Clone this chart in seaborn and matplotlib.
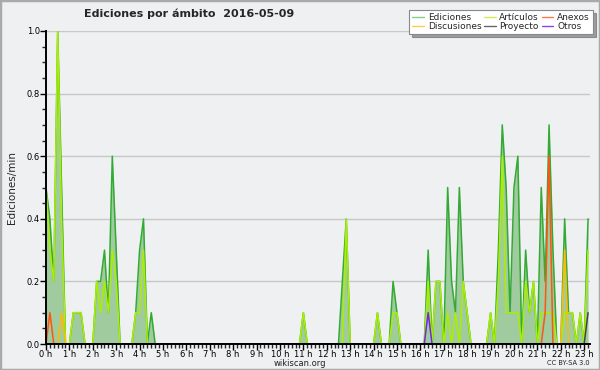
import matplotlib
matplotlib.use("Agg")
import matplotlib.pyplot as plt
import numpy as np
import pandas as pd
import seaborn as sns
from matplotlib.ticker import MultipleLocator, FixedLocator
from matplotlib.lines import Line2D
from matplotlib.patches import Rectangle

# ---- data: edits per minute in 10-minute bins (6 bins per hour) ----
bins_per_hour = 6
hour_labels = [f"{h} h" for h in range(24)]

ediciones = [
    0.5, 0.4, 0.2, 1.0, 0.5, 0.0,   # 0 h
    0.0, 0.1, 0.1, 0.1, 0.0, 0.0,   # 1 h
    0.0, 0.2, 0.2, 0.3, 0.1, 0.6,   # 2 h
    0.3, 0.0, 0.0, 0.0, 0.0, 0.1,   # 3 h
    0.3, 0.4, 0.0, 0.1, 0.0, 0.0,   # 4 h
    0.0, 0.0, 0.0, 0.0, 0.0, 0.0,   # 5 h
    0.0, 0.0, 0.0, 0.0, 0.0, 0.0,   # 6 h
    0.0, 0.0, 0.0, 0.0, 0.0, 0.0,   # 7 h
    0.0, 0.0, 0.0, 0.0, 0.0, 0.0,   # 8 h
    0.0, 0.0, 0.0, 0.0, 0.0, 0.0,   # 9 h
    0.0, 0.0, 0.0, 0.0, 0.0, 0.0,   # 10 h
    0.1, 0.0, 0.0, 0.0, 0.0, 0.0,   # 11 h
    0.0, 0.0, 0.0, 0.0, 0.2, 0.4,   # 12 h
    0.0, 0.0, 0.0, 0.0, 0.0, 0.0,   # 13 h
    0.0, 0.1, 0.0, 0.0, 0.0, 0.2,   # 14 h
    0.1, 0.0, 0.0, 0.0, 0.0, 0.0,   # 15 h
    0.0, 0.0, 0.3, 0.0, 0.2, 0.2,   # 16 h
    0.0, 0.5, 0.2, 0.1, 0.5, 0.2,   # 17 h
    0.1, 0.0, 0.0, 0.0, 0.0, 0.0,   # 18 h
    0.1, 0.0, 0.3, 0.7, 0.5, 0.1,   # 19 h
    0.5, 0.6, 0.0, 0.3, 0.1, 0.2,   # 20 h
    0.0, 0.5, 0.2, 0.7, 0.3, 0.0,   # 21 h
    0.0, 0.4, 0.1, 0.1, 0.0, 0.1,   # 22 h
    0.0, 0.4,                       # 23 h
]
articulos = [
    0.5, 0.3, 0.2, 1.0, 0.4, 0.0,
    0.0, 0.1, 0.1, 0.1, 0.0, 0.0,
    0.0, 0.2, 0.1, 0.2, 0.1, 0.3,
    0.2, 0.0, 0.0, 0.0, 0.0, 0.1,
    0.1, 0.3, 0.0, 0.0, 0.0, 0.0,
    0.0, 0.0, 0.0, 0.0, 0.0, 0.0,
    0.0, 0.0, 0.0, 0.0, 0.0, 0.0,
    0.0, 0.0, 0.0, 0.0, 0.0, 0.0,
    0.0, 0.0, 0.0, 0.0, 0.0, 0.0,
    0.0, 0.0, 0.0, 0.0, 0.0, 0.0,
    0.0, 0.0, 0.0, 0.0, 0.0, 0.0,
    0.1, 0.0, 0.0, 0.0, 0.0, 0.0,
    0.0, 0.0, 0.0, 0.0, 0.0, 0.4,
    0.0, 0.0, 0.0, 0.0, 0.0, 0.0,
    0.0, 0.1, 0.0, 0.0, 0.0, 0.1,
    0.1, 0.0, 0.0, 0.0, 0.0, 0.0,
    0.0, 0.0, 0.2, 0.0, 0.2, 0.2,
    0.0, 0.1, 0.0, 0.1, 0.0, 0.2,
    0.1, 0.0, 0.0, 0.0, 0.0, 0.0,
    0.1, 0.0, 0.2, 0.6, 0.1, 0.1,
    0.1, 0.1, 0.0, 0.2, 0.1, 0.2,
    0.0, 0.1, 0.1, 0.1, 0.1, 0.0,
    0.0, 0.1, 0.1, 0.1, 0.0, 0.1,
    0.0, 0.3,
]
n = len(ediciones)
anexos = [0.0] * n
anexos[1] = 0.1
anexos[128] = 0.1
anexos[129] = 0.6
discusiones = [0.0] * n
discusiones[4] = 0.1
discusiones[133] = 0.3
proyecto = [0.0] * n
proyecto[139] = 0.1
otros = [0.0] * n
otros[98] = 0.1

series_names = ["Ediciones", "Artículos", "Anexos", "Discusiones", "Proyecto", "Otros"]
series_values = [ediciones, articulos, anexos, discusiones, proyecto, otros]
line_colors = {"Ediciones": "#33aa33", "Artículos": "#aaee00", "Anexos": "#ff5511",
               "Discusiones": "#ffbb00", "Proyecto": "#444444", "Otros": "#7722ee"}
legend_colors = {"Ediciones": "#88cc88", "Artículos": "#ccee55", "Anexos": "#ff7744",
                 "Discusiones": "#ffcc44", "Proyecto": "#666666", "Otros": "#8844ee"}

hours = np.arange(n) / bins_per_hour
df = pd.concat([pd.DataFrame({"hora": hours, "valor": v, "serie": s})
                for s, v in zip(series_names, series_values)], ignore_index=True)

# ---- style ----
sns.set_style("ticks")
bg = "#eef0f1"
plt.rcParams["font.family"] = ["DejaVu Sans"]

fig = plt.figure(figsize=(6.0, 3.7), dpi=100, facecolor=bg)
ax = fig.add_axes([46 / 600, 26 / 370, 544 / 600, 313 / 370])
ax.set_facecolor(bg)

ax.fill_between(hours, ediciones, 0, color="#9fcb9f", linewidth=0, zorder=1)
sns.lineplot(data=df, x="hora", y="valor", hue="serie", hue_order=series_names,
             palette=line_colors, estimator=None, linewidth=1.1, legend=False,
             ax=ax, zorder=3)

ax.set_xlim(0, 23.25)
ax.set_ylim(0, 1.0)
ax.xaxis.set_major_locator(FixedLocator(range(24)))
ax.set_xticklabels(hour_labels)
ax.xaxis.set_minor_locator(MultipleLocator(1 / 6))
ax.yaxis.set_major_locator(MultipleLocator(0.2))
ax.yaxis.set_minor_locator(MultipleLocator(0.05))
ax.yaxis.set_major_formatter(matplotlib.ticker.FormatStrFormatter("%.1f"))
ax.tick_params(axis="both", which="major", direction="out", length=4, width=1,
               labelsize=6, colors="#000000", pad=0.5)
ax.tick_params(axis="both", which="minor", direction="out", length=3, width=1)
ax.grid(axis="y", which="major", color="#c8c8c8", linewidth=1)
ax.set_axisbelow(True)
for side in ["top", "right"]:
    ax.spines[side].set_visible(False)
for side in ["left", "bottom"]:
    ax.spines[side].set_color("#000000")
    ax.spines[side].set_linewidth(1.4)
    ax.spines[side].set_zorder(10)
ax.set_xlabel("")
ax.set_ylabel("Ediciones/min", fontsize=7.5, labelpad=7)

fig.text(0.315, 0.962, "Ediciones por ámbito  2016-05-09", ha="center", va="center",
         fontsize=8, fontweight="bold")
fig.text(0.5, 0.017, "wikiscan.org", ha="center", va="center", fontsize=6, color="#222222")
fig.text(0.983, 0.019, "CC BY-SA 3.0", ha="right", va="center", fontsize=4.8, color="#222222")

handles = [Line2D([0], [0], color=legend_colors[s], linewidth=1) for s in series_names]
order = [0, 3, 1, 4, 2, 5]
leg = fig.legend([handles[i] for i in order], [series_names[i] for i in order],
                 loc="upper right", bbox_to_anchor=(0.988, 0.973), ncol=3,
                 fontsize=6.5, frameon=True, fancybox=False, shadow=True,
                 handlelength=1.3, handletextpad=0.4, columnspacing=0.3,
                 labelspacing=0.0, borderpad=0.35, borderaxespad=0)
leg.get_frame().set_edgecolor("#888888")
leg.get_frame().set_linewidth(0.8)
leg.get_frame().set_facecolor("white")

fig.patches.append(Rectangle((0, 0), 1, 1, transform=fig.transFigure, fill=False,
                             edgecolor="#aaaaaa", linewidth=2.5))

fig.savefig("out.png", dpi=100, facecolor=bg)
